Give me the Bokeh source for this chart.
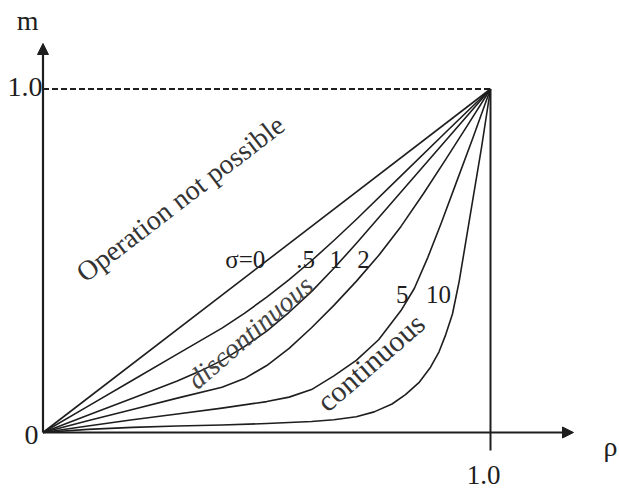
import numpy as np
from bokeh.plotting import figure
from bokeh.models import Range1d, Arrow, NormalHead
from bokeh.core.properties import value
from bokeh.embed import file_html
from bokeh.resources import INLINE

# ---- data ----
rho_s0 = [0.0, 1.0]
m_s0 = [0.0, 1.0]

rho_s05 = [0, 0.1, 0.2, 0.3, 0.4, 0.45, 0.5, 0.55, 0.6, 0.65, 0.7, 0.8, 0.9, 1]
m_s05 = [0, 0.076, 0.152, 0.228, 0.304, 0.347, 0.394, 0.445, 0.50, 0.559, 0.62, 0.747, 0.874, 1]

rho_s1 = [0, 0.1, 0.2, 0.3, 0.35, 0.4, 0.45, 0.5, 0.55, 0.6, 0.65, 0.7, 0.8, 0.9, 1]
m_s1 = [0, 0.05, 0.10, 0.15, 0.178, 0.21, 0.25, 0.295, 0.35, 0.41, 0.478, 0.55, 0.70, 0.85, 1]

rho_s2 = [0, 0.1, 0.2, 0.3, 0.4, 0.45, 0.5, 0.55, 0.6, 0.65, 0.7, 0.75, 0.8, 0.85, 0.9, 0.95, 1]
m_s2 = [0, 0.034, 0.067, 0.10, 0.132, 0.157, 0.195, 0.245, 0.305, 0.37, 0.44, 0.515, 0.60,
        0.695, 0.795, 0.897, 1]

rho_s5 = [0, 0.1, 0.2, 0.3, 0.4, 0.5, 0.55, 0.6, 0.65, 0.7, 0.75, 0.8, 0.83, 0.86, 0.89,
          0.92, 0.96, 1]
m_s5 = [0, 0.019, 0.037, 0.054, 0.071, 0.09, 0.103, 0.125, 0.165, 0.21, 0.27, 0.355, 0.42,
        0.51, 0.61, 0.715, 0.855, 1]

rho_s10 = [0, 0.1, 0.2, 0.3, 0.4, 0.5, 0.6, 0.65, 0.7, 0.74, 0.78, 0.81, 0.84, 0.866, 0.885,
           0.9, 0.915, 0.93, 0.945, 0.96, 0.98, 1]
m_s10 = [0, 0.009, 0.015, 0.019, 0.022, 0.026, 0.032, 0.037, 0.046, 0.06, 0.083, 0.11, 0.145,
         0.19, 0.235, 0.285, 0.345, 0.44, 0.557, 0.674, 0.83, 1]

curve_rho = [rho_s0, rho_s05, rho_s1, rho_s2, rho_s5, rho_s10]
curve_m = [m_s0, m_s05, m_s1, m_s2, m_s5, m_s10]

sigma_labels = ["σ=0", ".5", "1", "2", "5", "10"]
sigma_label_rho = [0.452, 0.587, 0.654, 0.716, 0.803, 0.884]
sigma_label_m = [0.503, 0.503, 0.503, 0.503, 0.402, 0.402]

x_tick_labels = ["1.0"]
y_tick_labels = ["0", "1.0"]

INK = "#1e1e1e"
FONT = "Liberation Serif"

# frame spans the whole canvas (page has no margin)
W, H = 619, 495
p = figure(width=W, height=H, output_backend="svg", toolbar_location=None,
           x_range=Range1d(-0.09497, 1.28827), y_range=Range1d(-0.18341, 1.25764),
           x_axis_location=None, y_axis_location=None, min_border=0)
p.outline_line_color = None
p.grid.visible = False
p.background_fill_color = "white"
p.border_fill_color = "white"

# axes with arrows
p.add_layout(Arrow(end=NormalHead(size=11, fill_color=INK, line_color=INK),
                   x_start=0, y_start=0, x_end=0, y_end=1.1325,
                   line_width=2.2, line_color=INK))
p.add_layout(Arrow(end=NormalHead(size=11, fill_color=INK, line_color=INK),
                   x_start=0, y_start=0, x_end=1.1855, y_end=0,
                   line_width=2.2, line_color=INK))

# dashed m = 1 line and vertical rho = 1 line
p.line([0, 1], [1, 1], line_dash="6 3", line_width=2, line_color=INK)
p.line([1, 1], [1, -0.0524], line_width=2, line_color=INK)

# curves
for r, m in zip(curve_rho, curve_m):
    p.line(r, m, line_width=1.6, line_color=INK, line_join="round")

# sigma labels
p.text(x=sigma_label_rho, y=sigma_label_m, text=sigma_labels,
       text_font=value(FONT), text_font_size="25px", text_color=INK,
       text_align="center", text_baseline="middle")

# region labels
p.text(x=[0.307], y=[0.681], text=["Operation not possible"], angle=[np.deg2rad(37.5)],
       text_font=value(FONT), text_font_size="28px", text_color="#333333",
       text_align="center", text_baseline="middle")
p.text(x=[0.4626], y=[0.292], text=["discontinuous"], angle=[np.deg2rad(41)],
       text_font=value(FONT), text_font_style="italic", text_font_size="28px",
       text_color="#444444", text_align="center", text_baseline="middle")
p.text(x=[0.732], y=[0.205], text=["continuous"], angle=[np.deg2rad(41)],
       text_font=value(FONT), text_font_size="30px", text_color="#333333",
       text_align="center", text_baseline="middle")

# tick labels
p.text(x=[-0.010, -0.001], y=[-0.006, 1.005], text=y_tick_labels,
       text_font=value(FONT), text_font_size="28px", text_color=INK,
       text_align="right", text_baseline="middle")
p.text(x=[0.9844], y=[-0.1223], text=x_tick_labels,
       text_font=value(FONT), text_font_size="27px", text_color=INK,
       text_align="center", text_baseline="middle")

# axis names
p.text(x=[-0.0346], y=[1.199], text=["m"],
       text_font=value(FONT), text_font_size="28px", text_color=INK,
       text_align="center", text_baseline="middle")
p.text(x=[1.2525], y=[-0.0408], text=["ρ"],
       text_font=value(FONT), text_font_size="28px", text_color=INK,
       text_align="left", text_baseline="middle")

open("out.html", "w").write(file_html(p, INLINE))
